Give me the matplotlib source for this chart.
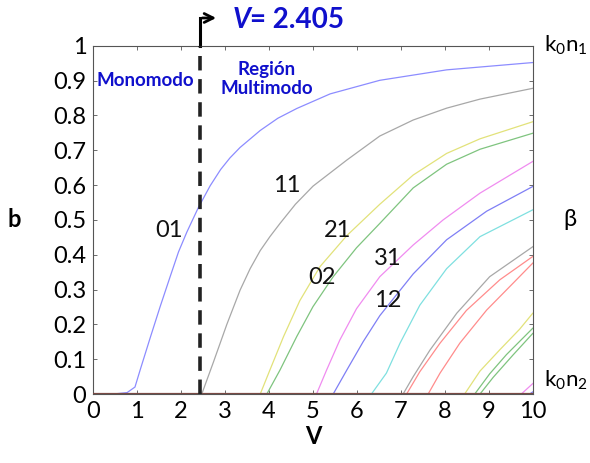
import matplotlib
matplotlib.use('Agg')
import matplotlib.pyplot as plt

plt.rcParams['font.family'] = ['Lato', 'DejaVu Sans']
plt.rcParams['mathtext.fontset'] = 'custom'
plt.rcParams['mathtext.rm'] = 'Lato'
plt.rcParams['mathtext.it'] = 'Lato:italic'

# curves b(V), one pair of lists per mode
v01 = [0.46, 0.77, 0.95, 1.07, 1.30, 1.52, 1.75, 1.94, 2.13, 2.39, 2.66, 2.90, 3.11, 3.34, 3.80, 4.20, 4.63, 5.39, 6.52, 8.04, 10.0]
b01 = [0.0, 0.004, 0.02, 0.07, 0.163, 0.25, 0.337, 0.408, 0.465, 0.535, 0.598, 0.645, 0.678, 0.708, 0.757, 0.792, 0.82, 0.862, 0.901, 0.931, 0.952]
v11 = [2.47, 2.73, 3.04, 3.34, 3.57, 3.80, 4.02, 4.25, 4.60, 5.0, 5.77, 6.52, 7.28, 8.04, 8.80, 10.0]
b11 = [0.0, 0.09, 0.2, 0.298, 0.36, 0.412, 0.452, 0.49, 0.545, 0.597, 0.672, 0.741, 0.787, 0.821, 0.847, 0.878]
v21 = [3.80, 4.02, 4.33, 4.70, 5.16, 5.77, 6.37, 6.52, 7.28, 8.04, 8.80, 10.0]
b21 = [0.0, 0.069, 0.165, 0.268, 0.366, 0.455, 0.527, 0.545, 0.629, 0.691, 0.733, 0.782]
v02 = [3.95, 4.25, 4.63, 5.0, 5.46, 5.99, 6.52, 7.28, 8.04, 8.80, 10.0]
b02 = [0.0, 0.069, 0.165, 0.251, 0.337, 0.42, 0.49, 0.592, 0.66, 0.703, 0.749]
v31 = [5.08, 5.31, 5.61, 5.99, 6.52, 7.28, 7.96, 8.80, 10.0]
b31 = [0.0, 0.069, 0.155, 0.245, 0.337, 0.428, 0.5, 0.577, 0.668]
v12 = [5.46, 5.77, 6.14, 6.52, 7.28, 8.04, 8.95, 10.0]
b12 = [0.0, 0.069, 0.15, 0.225, 0.345, 0.443, 0.525, 0.596]
v41 = [6.33, 6.67, 6.98, 7.43, 8.04, 8.80, 10.0]
b41 = [0.0, 0.06, 0.146, 0.255, 0.36, 0.452, 0.529]
v22 = [7.05, 7.28, 7.66, 8.27, 9.02, 10.0]
b22 = [0.0, 0.05, 0.126, 0.232, 0.337, 0.423]
v03 = [7.13, 7.43, 7.89, 8.49, 9.25, 10.0]
b03 = [0.0, 0.064, 0.146, 0.24, 0.328, 0.395]
v51 = [7.62, 7.89, 8.34, 8.95, 9.55, 10.0]
b51 = [0.0, 0.06, 0.146, 0.241, 0.318, 0.376]
v32 = [8.45, 8.80, 9.25, 9.70, 10.0]
b32 = [0.0, 0.066, 0.127, 0.186, 0.232]
v13 = [8.68, 9.02, 9.40, 10.0]
b13 = [0.0, 0.058, 0.113, 0.189]
v61 = [8.80, 9.10, 9.55, 10.0]
b61 = [0.0, 0.048, 0.112, 0.174]
v42 = [9.74, 10.0]
b42 = [0.0, 0.03]
v71 = [9.93, 10.0]
b71 = [0.0, 0.006]

curves = [(v01, b01, '#8c8cff'), (v11, b11, '#a8a8a8'), (v21, b21, '#e2e27a'),
          (v02, b02, '#7fc47f'), (v31, b31, '#f08cf0'), (v12, b12, '#7f7ff5'),
          (v41, b41, '#7fe0e0'), (v22, b22, '#a8a8a8'), (v03, b03, '#ff8c8c'),
          (v51, b51, '#ff8c8c'), (v32, b32, '#e2e27a'), (v13, b13, '#7fc47f'),
          (v61, b61, '#7fc47f'), (v42, b42, '#f08cf0'), (v71, b71, '#7f7ff5')]

mode_labels = ['01', '11', '21', '02', '31', '12']
label_v = [1.72, 4.41, 5.55, 5.20, 6.70, 6.70]
label_b = [0.47, 0.60, 0.47, 0.336, 0.39, 0.27]

v_cut = 2.44

fig = plt.figure(figsize=(5.9, 4.63), dpi=100)
ax = fig.add_axes([0.158, 0.149, 0.745, 0.752])

for v, b, c in curves:
    ax.plot(v, b, color=c, lw=0.9)
ax.axhline(0, color='#7a4a44', lw=1.6, zorder=3)

for lab, x, y in zip(mode_labels, label_v, label_b):
    ax.text(x, y, lab, fontsize=17, ha='center', va='center', color='#111111')

# linea de corte monomodo
ax.plot([v_cut, v_cut], [0, 1.0], color='#222222', lw=2.6, ls=(0, (4, 2.4)), zorder=4)
ax.plot([v_cut, v_cut], [1.0, 1.08], color='black', lw=2.2, clip_on=False)
ax.annotate('', xy=(2.86, 1.08), xytext=(v_cut - 0.02, 1.08),
            arrowprops=dict(arrowstyle='->', lw=2, color='black', mutation_scale=16),
            annotation_clip=False)
blue = '#1010cc'
fig.text(233 / 590, 1 - 20 / 463, 'V', fontsize=20, fontweight='bold', fontstyle='italic',
         color=blue, va='center', ha='left')
fig.text(250 / 590, 1 - 20 / 463, '= 2.405', fontsize=20, fontweight='bold',
         color=blue, va='center', ha='left')

ax.text(0.07, 0.9, 'Monomodo', fontsize=13.5, fontweight='bold', color=blue, va='center')
ax.text(3.95, 0.905, 'Región\nMultimodo', fontsize=13.5, fontweight='bold', color=blue,
        va='center', ha='center', linespacing=1.15)

ax.set_xlim(0, 10)
ax.set_ylim(0, 1)
ax.set_xticks(range(0, 11))
ax.set_yticks([0, 0.1, 0.2, 0.3, 0.4, 0.5, 0.6, 0.7, 0.8, 0.9, 1])
ax.set_yticklabels(['0', '0.1', '0.2', '0.3', '0.4', '0.5', '0.6', '0.7', '0.8', '0.9', '1'])
ax.tick_params(direction='in', length=3, width=0.6, top=True, right=True,
               labelsize=17, pad=5, colors='#555555', labelcolor='black')
for s in ax.spines.values():
    s.set_color('#555555')
    s.set_linewidth(0.8)

ax.set_xlabel('V', fontsize=17, fontweight='bold', labelpad=2)
ax.set_ylabel('b', fontsize=17, fontweight='bold', rotation=0, labelpad=28, va='center')

ax.text(10.25, 1.0, r'$\mathrm{k_0n_1}$', fontsize=16, va='center', ha='left', clip_on=False)
ax.text(10.7, 0.5, 'β', fontsize=17, va='center', ha='left', clip_on=False)
ax.text(10.25, 0.04, r'$\mathrm{k_0n_2}$', fontsize=16, va='center', ha='left', clip_on=False)

fig.savefig('out.png', dpi=100)
